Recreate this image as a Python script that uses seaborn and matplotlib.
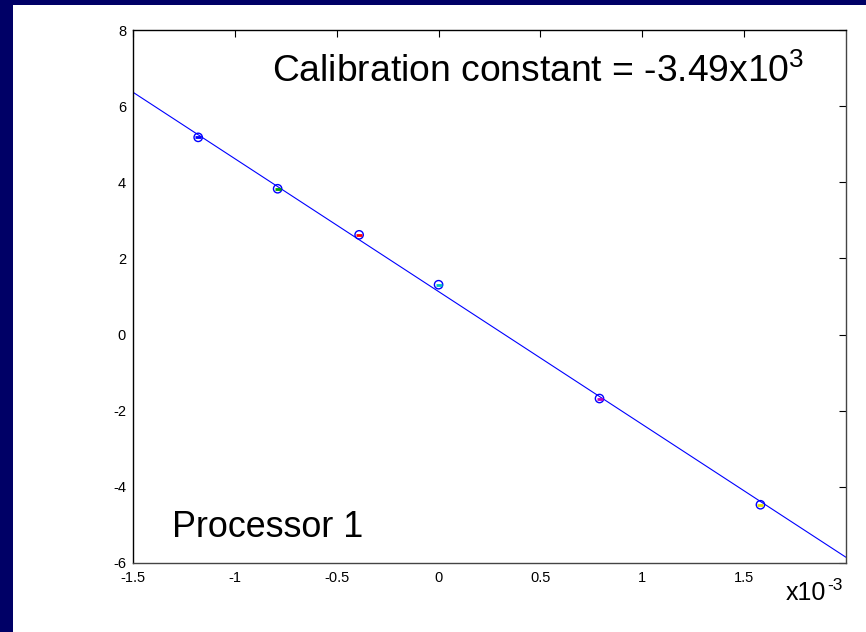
import matplotlib
matplotlib.use("Agg")
import matplotlib.pyplot as plt
from matplotlib.patches import Rectangle
import numpy as np
import pandas as pd
import seaborn as sns

# Calibration points (strain in units of 1e-3, sensor output)
strain = [-1.18, -0.79, -0.39, 0.0, 0.79, 1.58]
output = [5.18, 3.83, 2.62, 1.31, -1.68, -4.47]
point_colors = ["#0000ff", "#00a000", "#ff0000", "#00c0c0", "#c000c0", "#e0e000"]

# Linear fit: slope in units of 1e3 (x is scaled by 1e-3)
slope = -3.49
intercept = 1.13

x_ticks = [-1.5, -1, -0.5, 0, 0.5, 1, 1.5]
x_tick_labels = ["-1.5", "-1", "-0.5", "0", "0.5", "1", "1.5"]
y_ticks = [-6, -4, -2, 0, 2, 4, 6, 8]
y_tick_labels = ["-6", "-4", "-2", "0", "2", "4", "6", "8"]
x_limits = [-1.5, 2.0]
y_limits = [-6, 8]

sns.set_theme(style="white")
plt.rcParams["font.family"] = ["Liberation Sans", "DejaVu Sans"]
plt.rcParams["mathtext.fontset"] = "custom"
plt.rcParams["mathtext.rm"] = "Liberation Sans"
plt.rcParams["mathtext.it"] = "Liberation Sans"
plt.rcParams["mathtext.bf"] = "Liberation Sans"

fig = plt.figure(figsize=(8.66, 6.32), dpi=100)
fig.patch.set_facecolor("white")

# Navy slide edges on the left and top
fig.patches.append(Rectangle((0, 0), 13 / 866, 1, transform=fig.transFigure,
                             facecolor="#000066", edgecolor="none", zorder=0))
fig.patches.append(Rectangle((0, 1 - 5 / 632), 1, 5 / 632, transform=fig.transFigure,
                             facecolor="#000066", edgecolor="none", zorder=0))

ax = fig.add_axes([133 / 866, 69 / 632, 713 / 866, 533 / 632])
ax.set_facecolor("white")

points = pd.DataFrame({"strain": strain, "output": output})
fit_x = np.array(x_limits)
fit = pd.DataFrame({"strain": fit_x, "output": slope * fit_x + intercept})

sns.lineplot(data=fit, x="strain", y="output", ax=ax, color="#0000ff",
             linewidth=0.8, zorder=2)
sns.scatterplot(data=points, x="strain", y="output", ax=ax, s=36,
                facecolor="none", edgecolor="#0000ff", linewidth=1.0, zorder=3)
for xs, ys, c in zip(strain, output, point_colors):
    ax.plot(xs, ys, marker="_", markersize=4, markeredgewidth=2.0,
            color=c, zorder=4)

ax.set_xlim(x_limits)
ax.set_ylim(y_limits)
ax.set_xticks(x_ticks)
ax.set_xticklabels(x_tick_labels)
ax.set_yticks(y_ticks)
ax.set_yticklabels(y_tick_labels)
ax.set_xlabel("")
ax.set_ylabel("")

ax.tick_params(axis="both", which="major", direction="in", length=5, width=0.8,
               labelsize=10.5, colors="black", top=True, right=True,
               labeltop=False, labelright=False)
ax.tick_params(axis="x", pad=6)
ax.tick_params(axis="y", pad=5)
for side in ["left", "top"]:
    ax.spines[side].set_color("black")
    ax.spines[side].set_linewidth(1.0)
for side in ["bottom", "right"]:
    ax.spines[side].set_color("#444444")
    ax.spines[side].set_linewidth(1.0)
for side in ax.spines:
    ax.spines[side].set_visible(True)

ax.text(0.195, 0.902, "Calibration constant = -3.49x10$^{3}$",
        transform=ax.transAxes, fontsize=26.8, va="baseline", ha="left",
        color="black")
ax.text(0.0547, 0.0488, "Processor 1", transform=ax.transAxes,
        fontsize=25.8, va="baseline", ha="left", color="black")

# Axis multiplier, written with a plain hyphen in the exponent
fig.text(826 / 866, 1 - 600 / 632, "x10", fontsize=18,
         va="baseline", ha="right", color="black")
fig.text(827 / 866, 1 - 590 / 632, "-3", fontsize=12.5,
         va="baseline", ha="left", color="black")

fig.savefig("out.png", dpi=100, facecolor=fig.get_facecolor())
